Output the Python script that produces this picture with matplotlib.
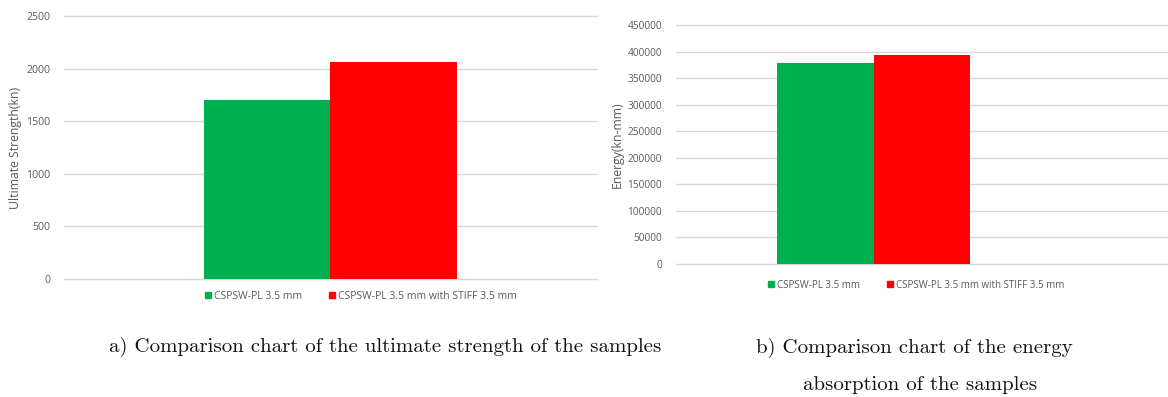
import matplotlib
matplotlib.use("Agg")
import matplotlib.pyplot as plt
from matplotlib.patches import Patch

series = ["CSPSW-PL 3.5 mm", "CSPSW-PL 3.5 mm with STIFF 3.5 mm"]
strength = [1705, 2065]
energy = [378000, 393500]
strength_ticks = [0, 500, 1000, 1500, 2000, 2500]
energy_ticks = list(range(0, 450001, 50000))
colors = ["#00B050", "#FF0000"]
captions = ["a) Comparison chart of the ultimate strength of the samples",
            "b) Comparison chart of the energy",
            "absorption of the samples"]

plt.rcParams["font.family"] = ["Open Sans", "DejaVu Sans"]
gray = "#595959"

fig = plt.figure(figsize=(11.68, 3.97), dpi=100)
ax1 = fig.add_axes([0.0548, 0.2972, 0.4563, 0.6625])
ax2 = fig.add_axes([0.5788, 0.335, 0.4212, 0.602])


def style(ax, ticks, ylabel, size):
    ax.set_ylim(ticks[0], ticks[-1])
    ax.set_yticks(ticks)
    ax.set_xticks([])
    for s in ax.spines.values():
        s.set_visible(False)
    ax.grid(axis="y", color="#d9d9d9", linewidth=1)
    for line in ax.get_ygridlines():
        line.set_clip_on(False)
    ax.set_axisbelow(True)
    ax.tick_params(axis="y", length=0, labelsize=size, labelcolor=gray, pad=10)
    ax.set_ylabel(ylabel, fontsize=8.8, color=gray, labelpad=3)


# left chart
w1 = 0.238
ax1.set_xlim(-0.5, 0.5)
for i, (v, c) in enumerate(zip(strength, colors)):
    ax1.bar((i - 0.5) * w1, v, width=w1, color=c, zorder=2)
style(ax1, strength_ticks, "Ultimate Strength(kn)", 7.6)

# right chart
w2 = 0.196
ax2.set_xlim(-0.4014, 0.5986)
for i, (v, c) in enumerate(zip(energy, colors)):
    ax2.bar((i - 0.5) * w2, v, width=w2, color=c, zorder=2)
style(ax2, energy_ticks, "Energy(kn-mm)", 7.3)

handles = [Patch(color=c, label=s) for c, s in zip(colors, series)]
for x, y, fs, cs in [(0.309, 0.2544, 7.5, 2.5), (0.7847, 0.2821, 7.0, 2.8)]:
    fig.legend(handles=handles, loc="center", bbox_to_anchor=(x, y), ncol=2,
               frameon=False, fontsize=fs, labelcolor=gray, handlelength=0.6,
               handleheight=0.6, handletextpad=0.3, columnspacing=cs)

cap = dict(family="cmr10", fontsize=15, ha="center", va="center", color="#111111")
fig.text(0.33, 0.126, captions[0], **cap)
fig.text(0.783, 0.1234, captions[1], **cap)
fig.text(0.788, 0.030, captions[2], **cap)

fig.savefig("out.png", dpi=100)
